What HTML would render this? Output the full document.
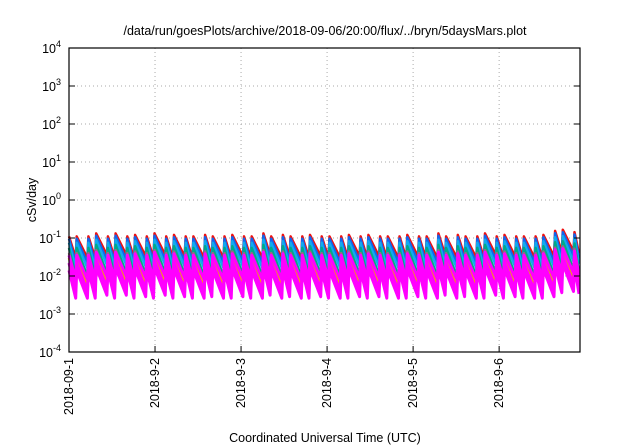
<!DOCTYPE html>
<html><head><meta charset="utf-8"><style>
body{margin:0;background:#fff;}
svg{display:block;font-family:"Liberation Sans",sans-serif;}
</style></head><body>
<svg id="chart" width="640" height="448">
<text x="325" y="35" text-anchor="middle" font-size="12.5">/data/run/goesPlots/archive/2018-09-06/20:00/flux/../bryn/5daysMars.plot</text>
<text x="36" y="200" text-anchor="middle" font-size="12.5" transform="rotate(-90 36 200)">cSv/day</text>
<text x="325" y="442" text-anchor="middle" font-size="12.5">Coordinated Universal Time (UTC)</text>
<g id="grid"></g><g id="series"></g><g id="axes"></g>
</svg>
<script>
const toothStart=[0,.09,.226,.316,.452,.542,.678,.768,.904,.994,1.13,1.22,1.356,1.446,1.582,1.672,1.808,1.898,2.034,2.124,2.26,2.35,2.486,2.576,2.712,2.802,2.938,3.028,3.164,3.254,3.39,3.48,3.616,3.706,3.842,3.932,4.068,4.158,4.294,4.384,4.52,4.61,4.746,4.836,4.972,5.062,5.198,5.288,5.424,5.514,5.65,5.74,5.876];
const toothScale=[1,1,1,1.2,1,1.2,1,1.1,1,1.2,1,1.1,1,1,1.1,1,1,1.1,1,1,1.2,1,1.1,1,1,1.1,1,1,1,1.1,1,1.1,1,1,1,1.1,1,1,1.2,1,1.1,1,1,1.2,1,1.1,1,1,1,1.1,1.4,1.5,1.3];
const seriesNames=["red","blue","cyan","green","purple","orange","magenta1","magenta2","magenta3"];
const seriesColors=["#ee1111","#1166ee","#11aaee","#00aa88","#996688","#eeaa00","#ff00ff","#ff00ff","#ff00ff"];
const seriesPeak=[0.11,0.095,0.075,0.055,0.04,0.03,0.035,0.022,0.014];
const seriesTrough=[0.03,0.022,0.016,0.01,0.008,0.005,0.008,0.004,0.0026];
const yTicks=[4,3,2,1,0,-1,-2,-3,-4];
const xTickLabels=["2018-09-1","2018-9-2","2018-9-3","2018-9-4","2018-9-5","2018-9-6"];
const xTickDays=[0,1,2,3,4,5];
const X0=69,X1=580,Y0=48,Y1=352,DMAX=5.94;
const xs=d=>X0+(d/DMAX)*(X1-X0);
const ys=v=>Y1-(Math.log10(v)+4)/8*(Y1-Y0);
const NS="http://www.w3.org/2000/svg";
const mk=(t,a,p)=>{const e=document.createElementNS(NS,t);for(const k in a)e.setAttribute(k,a[k]);p.appendChild(e);return e;};
const grid=document.getElementById('grid'),axes=document.getElementById('axes'),ser=document.getElementById('series');
yTicks.forEach(p=>{const y=ys(Math.pow(10,p));
 if(p>-4&&p<4){const l=mk('line',{x1:X0,x2:X1,y1:y,y2:y,stroke:'#aaa','stroke-dasharray':'1,3'},grid);
 
 }
 const tk=mk('line',{x1:X0,x2:X0+6,y1:y,y2:y,stroke:'#000'},axes);
 
 
 const tk2=mk('line',{x1:X1-6,x2:X1,y1:y,y2:y,stroke:'#000'},axes);
 
 
 const t=mk('text',{x:X0-8,y:y+5,'text-anchor':'end','font-size':'12.5'},axes);
 
 
 t.textContent='10';const s=mk('tspan',{dy:-6,'font-size':'9'},t);s.textContent=String(p);
});
xTickDays.forEach((d,i)=>{const x=xs(d);
 if(i>0){const l=mk('line',{x1:x,x2:x,y1:Y0,y2:Y1,stroke:'#aaa','stroke-dasharray':'1,3'},grid);
 
 }
 const tk=mk('line',{x1:x,x2:x,y1:Y1-6,y2:Y1,stroke:'#000'},axes);
 
 
 const t=mk('text',{x:x+4,y:Y1+6,'text-anchor':'end','font-size':'12.5',transform:`rotate(-90 ${x+4} ${Y1+6})`},axes);
 
 
 t.textContent=xTickLabels[i];
});
const fr=mk('rect',{x:X0,y:Y0,width:X1-X0,height:Y1-Y0,fill:'none',stroke:'#000','stroke-width':1.2},axes);


seriesNames.forEach((n,si)=>{
 let pts=[];
 toothStart.forEach((t0,i)=>{
  const t1=i+1<toothStart.length?toothStart[i+1]:DMAX;
  const pk=seriesPeak[si]*toothScale[i],tr=seriesTrough[si]*toothScale[i];
  pts.push(xs(t0).toFixed(1)+','+ys(pk).toFixed(1));
  pts.push(xs(t1-0.012).toFixed(1)+','+ys(tr).toFixed(1));
 });
 const pl=mk('polyline',{points:pts.join(' '),fill:'none',stroke:seriesColors[si],'stroke-width':si>=6?3:2.5,'stroke-linejoin':'round'},ser);
 
 
});
</script>
</body></html>
